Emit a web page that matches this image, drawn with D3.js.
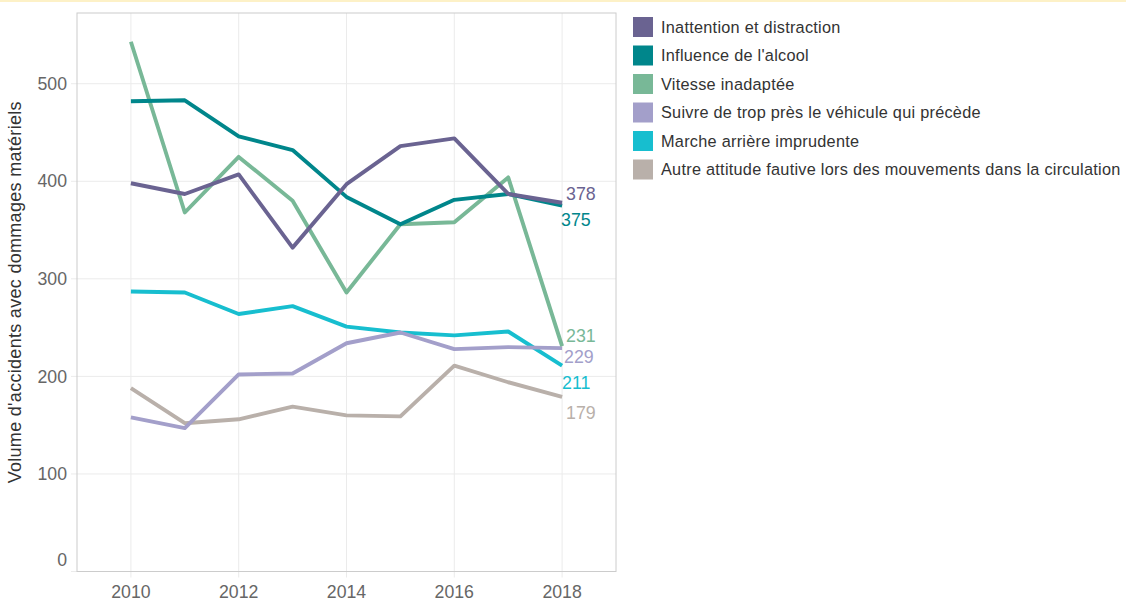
<!DOCTYPE html>
<html><head><meta charset="utf-8">
<script src="https://cdn.jsdelivr.net/npm/d3@7"></script>
<style>
body{margin:0;background:#fff;}
svg{display:block;font-family:"Liberation Sans",Arial,sans-serif;}
</style></head>
<body>
<svg id="chart" width="1126" height="601"></svg>
<script>
const years = [2010,2011,2012,2013,2014,2015,2016,2017,2018];
const seriesNames = [
  "Inattention et distraction",
  "Influence de l'alcool",
  "Vitesse inadaptée",
  "Suivre de trop près le véhicule qui précède",
  "Marche arrière imprudente",
  "Autre attitude fautive lors des mouvements dans la circulation"
];
const inattention = [398,387,407,332,397,436,444,387,378];
const alcool      = [482,483,446,432,384,356,381,387,375];
const vitesse     = [543,368,425,380,286,356,358,404,231];
const suivre      = [158,147,202,203,234,245,228,230,229];
const marche      = [287,286,264,272,251,245,242,246,211];
const autre       = [188,152,156,169,160,159,211,194,179];
const xTicks = [2010,2012,2014,2016,2018];
const yTicks = [0,100,200,300,400,500];

const colors = ["#6a6391","#00868b","#78b897","#a39fca","#17becf","#b9b0aa"];
const labelDy = [-9,14,-10,9,17,16];
const labelDx = [4,-1,4,2,0,4];
const values = [inattention, alcool, vitesse, suivre, marche, autre];

const svg = d3.select("#chart");
svg.append("rect").attr("x",0).attr("y",0).attr("width",1126).attr("height",2).attr("fill","#fdf1c7");

const L=77, R=616, T=13, B=571.5;
const x = d3.scaleLinear().domain([2009,2019]).range([L,R]);
const y = d3.scaleLinear().domain([0,572.5]).range([B,T]);

const g = svg.append("g");
// gridlines
g.selectAll(".gy").data(yTicks).join("line")
  .attr("x1",L-6).attr("x2",R).attr("y1",d=>y(d)).attr("y2",d=>y(d))
  .attr("stroke","#ebebeb").attr("stroke-width",1);
g.selectAll(".gx").data(xTicks).join("line")
  .attr("x1",d=>x(d)).attr("x2",d=>x(d)).attr("y1",T).attr("y2",B+6)
  .attr("stroke","#ebebeb").attr("stroke-width",1);
// panel border
g.append("rect").attr("x",L).attr("y",T).attr("width",R-L).attr("height",B-T)
  .attr("fill","none").attr("stroke","#cccccc").attr("stroke-width",1);

// axes labels
g.selectAll(".ty").data(yTicks).join("text")
  .attr("x",L-10).attr("y",d=> d===0 ? y(d)-12 : y(d))
  .attr("dy","0.35em").attr("text-anchor","end")
  .attr("font-size",17.7).attr("fill","#666").text(d=>d);
g.selectAll(".tx").data(xTicks).join("text")
  .attr("x",d=>x(d)).attr("y",592).attr("dy","0.35em").attr("text-anchor","middle")
  .attr("font-size",17.7).attr("fill","#666").text(d=>d);

svg.append("text").attr("transform",`translate(21,${(T+B)/2}) rotate(-90)`)
  .attr("text-anchor","middle").attr("font-size",18).attr("letter-spacing",0.3).attr("fill","#333")
  .text("Volume d'accidents avec dommages matériels");

// lines (reverse order so first series on top)
const line = d3.line().x((d,i)=>x(years[i])).y(d=>y(d));
const order = d3.range(values.length).reverse();
g.selectAll(".series").data(order).join("path")
  .attr("d",i=>line(values[i])).attr("fill","none")
  .attr("stroke",i=>colors[i]).attr("stroke-width",3.9)
  .attr("stroke-linejoin","round").attr("stroke-linecap","butt");

// end labels
g.selectAll(".endlab").data(order).join("text")
  .attr("x",i=>x(2018)+labelDx[i]).attr("y",i=>y(values[i][values[i].length-1])+labelDy[i])
  .attr("dy","0.35em").attr("font-size",17.8).attr("fill",i=>colors[i])
  .text(i=>values[i][values[i].length-1]);

// legend
const lg = svg.append("g");
seriesNames.forEach((n,i)=>{
  const cy = 27 + i*28.5;
  lg.append("rect").attr("x",633).attr("y",cy-10).attr("width",20).attr("height",20).attr("fill",colors[i]);
  lg.append("text").attr("x",661).attr("y",cy).attr("dy","0.35em")
    .attr("font-size",16.3).attr("letter-spacing",0.26).attr("fill","#333").text(n);
});
</script>
</body></html>
